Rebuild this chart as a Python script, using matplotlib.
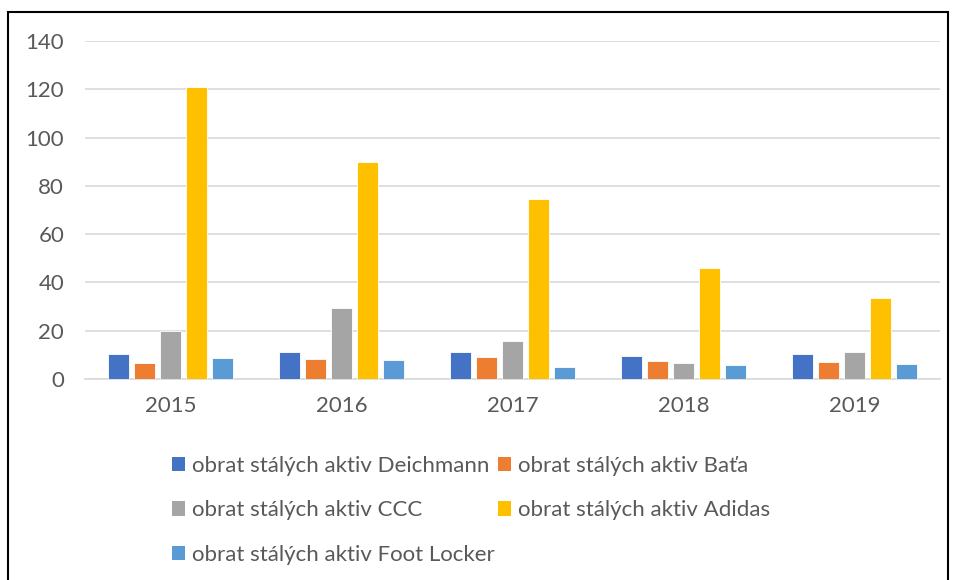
import numpy as np
import matplotlib.pyplot as plt
from matplotlib.patches import Rectangle, Patch

years = ['2015', '2016', '2017', '2018', '2019']
series_names = ['obrat stálých aktiv Deichmann', 'obrat stálých aktiv Baťa',
                'obrat stálých aktiv CCC', 'obrat stálých aktiv Adidas',
                'obrat stálých aktiv Foot Locker']
deichmann = [10.3, 11.3, 11.0, 9.5, 10.3]
bata = [6.5, 8.1, 9.0, 7.5, 7.2]
ccc = [19.7, 29.6, 15.7, 6.7, 11.1]
adidas = [121.0, 89.8, 74.4, 46.0, 33.7]
foot_locker = [8.8, 7.7, 4.9, 5.6, 6.3]
colors = ['#4472C4', '#ED7D31', '#A5A5A5', '#FFC000', '#5B9BD5']

plt.rcParams['font.family'] = ['Lato', 'DejaVu Sans']
txt = '#595959'

fig = plt.figure(figsize=(9.55, 5.8), dpi=100)
ax = fig.add_axes([85/955, 1 - 379/580, 855/955, 338/580])

data = [deichmann, bata, ccc, adidas, foot_locker]
x = np.arange(len(years))
step = 0.152
width = 0.118
for i, (vals, c) in enumerate(zip(data, colors)):
    ax.bar(x + (i - 2) * step, vals, width, color=c, edgecolor='white', linewidth=0.6,
           zorder=3, label=series_names[i])

ax.set_xlim(-0.5, 4.5)
ax.set_ylim(0, 140)
ax.set_yticks(range(0, 141, 20))
ax.set_xticks(x)
ax.set_xticklabels(years)
ax.grid(axis='y', color='#D9D9D9', linewidth=1.2, zorder=0)
for s in ['top', 'right', 'left']:
    ax.spines[s].set_visible(False)
ax.spines['bottom'].set_color('#D9D9D9')
ax.spines['bottom'].set_linewidth(1.2)
ax.tick_params(axis='both', length=0, labelsize=16, colors=txt)
ax.tick_params(axis='x', pad=12)
ax.tick_params(axis='y', pad=15)

# row-major legend order like the original (matplotlib fills column by column)
order = [0, 2, 4, 1, 3]
handles = [Patch(facecolor=colors[i], edgecolor='none') for i in order]
labels = [series_names[i] for i in order]
fig.legend(handles, labels, loc='upper left', bbox_to_anchor=(163/955, 1 - 447/580),
           ncol=2, frameon=False, fontsize=16, labelcolor=txt, handlelength=0.6,
           handleheight=0.6, handletextpad=0.3, columnspacing=0.15, labelspacing=1.1,
           borderaxespad=0)

fig.patches.append(Rectangle((8/955, -0.05), 940/955, 1 - 12/580 + 0.05,
                             transform=fig.transFigure, fill=False,
                             edgecolor='black', linewidth=1.5))

fig.savefig('out.png', dpi=100)
